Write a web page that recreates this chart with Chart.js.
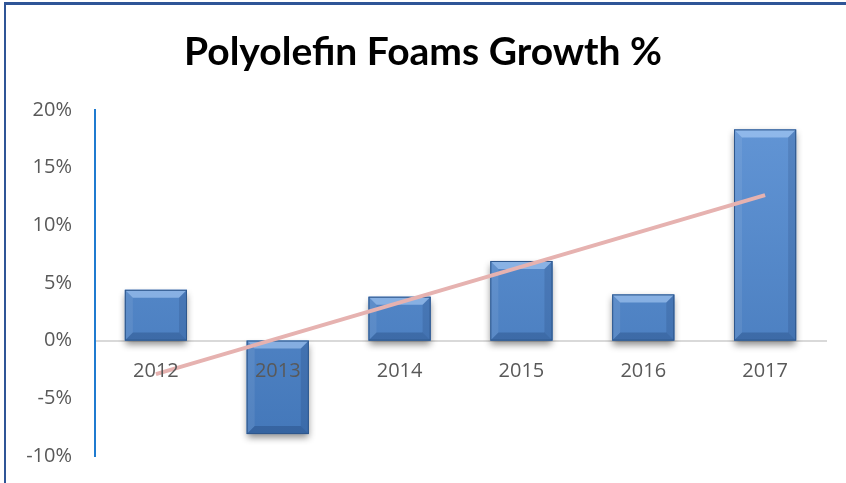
<!DOCTYPE html>
<html>
<head>
<meta charset="utf-8">
<script src="https://cdn.jsdelivr.net/npm/chart.js@4.4.1/dist/chart.umd.min.js"></script>
<style>
  body { margin: 0; background: #fff; }
  #wrap { position: relative; width: 846px; height: 483px; overflow: hidden; }
  #frame {
    position: absolute; left: 4px; top: 2px; width: 900px; height: 478px;
    border-top: 3px solid #2F5597; border-left: 2px solid #2F5597;
    border-bottom: 2px solid #dde3ea; pointer-events: none;
  }
  canvas { position: absolute; left: 0; top: 0; }
</style>
</head>
<body>
<div id="wrap">
  <canvas id="chart" width="846" height="483"></canvas>
  <div id="frame"></div>
</div>
<script>
const years = ['2012', '2013', '2014', '2015', '2016', '2017'];
const growth = [4.4, -8.1, 3.8, 6.9, 4.0, 18.3];
// linear trend: only the two end points
const trend = [-2.9, null, null, null, null, 12.6];
const yTicks = [-10, -5, 0, 5, 10, 15, 20];

// bevel + drop shadow look of the bars
const bevelPlugin = {
  id: 'bevel',
  beforeDatasetDraw(chart, args) {
    if (args.index !== 0) return;
    const ctx = chart.ctx;
    ctx.save();
    ctx.shadowColor = 'rgba(0,0,0,0.45)';
    ctx.shadowBlur = 7;
    ctx.shadowOffsetY = 4;
    ctx.fillStyle = '#4a7fc0';
    args.meta.data.forEach(bar => {
      const top = Math.min(bar.y, bar.base), bot = Math.max(bar.y, bar.base);
      ctx.fillRect(bar.x - bar.width / 2, top, bar.width, bot - top);
    });
    ctx.restore();
  },
  afterDatasetDraw(chart, args) {
    if (args.index !== 0) return;
    const ctx = chart.ctx;
    const b = 8;
    ctx.save();
    args.meta.data.forEach(bar => {
      const l = bar.x - bar.width / 2, r = bar.x + bar.width / 2;
      const t = Math.min(bar.y, bar.base), btm = Math.max(bar.y, bar.base);
      const poly = (pts, fill) => {
        ctx.beginPath();
        ctx.moveTo(pts[0][0], pts[0][1]);
        pts.slice(1).forEach(p => ctx.lineTo(p[0], p[1]));
        ctx.closePath();
        ctx.fillStyle = fill;
        ctx.fill();
      };
      poly([[l, t], [r, t], [r - b, t + b], [l + b, t + b]], 'rgba(190,220,255,0.5)');
      poly([[l, t], [l + b, t + b], [l + b, btm - b], [l, btm]], 'rgba(255,255,255,0.08)');
      poly([[r, t], [r - b, t + b], [r - b, btm - b], [r, btm]], 'rgba(0,20,60,0.12)');
      poly([[l, btm], [l + b, btm - b], [r - b, btm - b], [r, btm]], 'rgba(0,20,60,0.2)');
      ctx.strokeStyle = '#2e578c';
      ctx.lineWidth = 1;
      ctx.strokeRect(l + 0.5, t + 0.5, bar.width - 1, btm - t - 1);
    });
    ctx.restore();
  }
};

const ctx = document.getElementById('chart').getContext('2d');
new Chart(ctx, {
  type: 'bar',
  data: {
    labels: years,
    datasets: [{
      type: 'bar',
      data: growth,
      order: 2,
      barPercentage: 0.51,
      categoryPercentage: 1,
      backgroundColor: c => {
        const area = c.chart.chartArea;
        if (!area) return '#4f87c9';
        const g = c.chart.ctx.createLinearGradient(0, area.top, 0, area.bottom);
        g.addColorStop(0, '#6396d6');
        g.addColorStop(1, '#4276b8');
        return g;
      },
      borderWidth: 0
    }, {
      type: 'line',
      data: trend,
      order: 1,
      spanGaps: true,
      borderColor: '#E6B2B0',
      borderWidth: 4,
      pointRadius: 0,
      fill: false
    }]
  },
  options: {
    responsive: false,
    animation: false,
    layout: { padding: { left: 0, right: 0, top: 0, bottom: 20 } },
    plugins: {
      legend: { display: false },
      tooltip: { enabled: false },
      title: {
        display: true,
        text: 'Polyolefin Foams Growth %',
        color: '#000',
        font: { family: 'Lato', size: 39, weight: 'bold' },
        padding: { top: 29, bottom: 34 }
      }
    },
    scales: {
      x: {
        position: { y: 0 },
        grid: { display: false },
        border: { color: '#d9d9d9', width: 2 },
        ticks: {
          z: 1,
          color: '#595959',
          padding: 11,
          font: { family: 'Open Sans', size: 20 }
        }
      },
      y: {
        min: -10,
        max: 20,
        afterBuildTicks: axis => { axis.ticks = yTicks.map(v => ({ value: v })); },
        afterFit: axis => { axis.width = 95; },
        grid: { display: false },
        border: { color: '#1f7bd0', width: 2 },
        ticks: {
          color: '#595959',
          padding: 15,
          font: { family: 'Open Sans', size: 20 },
          callback: v => v + '%'
        }
      },
      // empty right margin
      yRight: {
        position: 'right',
        afterFit: axis => { axis.width = 20; },
        grid: { display: false },
        border: { display: false },
        ticks: { display: false }
      }
    }
  },
  plugins: [bevelPlugin]
});
</script>
</body>
</html>
